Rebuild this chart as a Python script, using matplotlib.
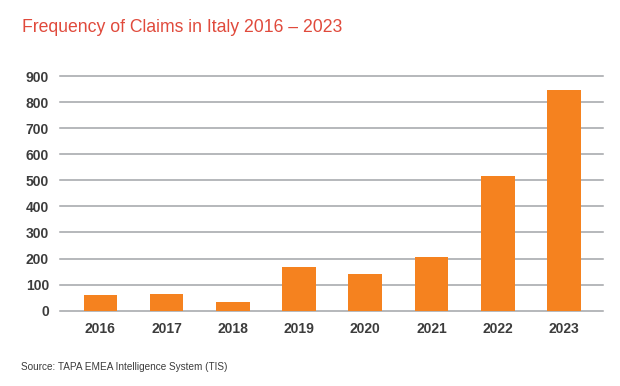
import numpy as np
import matplotlib.pyplot as plt

# Data
years = ['2016', '2017', '2018', '2019', '2020', '2021', '2022', '2023']
claims = [59, 64, 35, 169, 140, 207, 518, 846]
yticks = [0, 100, 200, 300, 400, 500, 600, 700, 800, 900]

barColor = '#F5821F'
titleColor = '#E04A3C'
labelColor = '#3C3C3C'
gridColor = '#A2A4A8'

plt.rcParams['font.family'] = ['Liberation Sans', 'DejaVu Sans']

fig = plt.figure(figsize=(6.2, 3.86), dpi=100)
ax = fig.add_axes([60 / 620, 1 - 310.7 / 386, 543 / 620, (310.7 - 76) / 386])

x = np.arange(len(years))
ax.bar(x, claims, width=0.51, color=barColor, zorder=3)

ax.set_xlim(-0.61, 7.59)
ax.set_ylim(0, 900)
ax.set_yticks(yticks)
ax.set_xticks(x)
ax.set_xticklabels(years)

# Horizontal gridlines only
ax.yaxis.grid(True, color=gridColor, linewidth=1.1, zorder=0)
for line in ax.get_ygridlines():
    line.set_clip_on(False)
for spine in ax.spines.values():
    spine.set_visible(False)

ax.tick_params(axis='both', length=0, labelsize=10, labelcolor=labelColor)
ax.tick_params(axis='y', pad=8)
ax.tick_params(axis='x', pad=8)
for lbl in ax.get_xticklabels() + ax.get_yticklabels():
    lbl.set_fontweight('bold')

fig.text(22 / 620, 1 - 28 / 386, 'Frequency of Claims in Italy 2016 \u2013 2023',
         color=titleColor, fontsize=12.7, va='center', ha='left')
fig.text(21 / 620, 1 - 367 / 386, 'Source: TAPA EMEA Intelligence System (TIS)',
         color=labelColor, fontsize=7.2, va='center', ha='left')

fig.savefig('out.png', dpi=100)
